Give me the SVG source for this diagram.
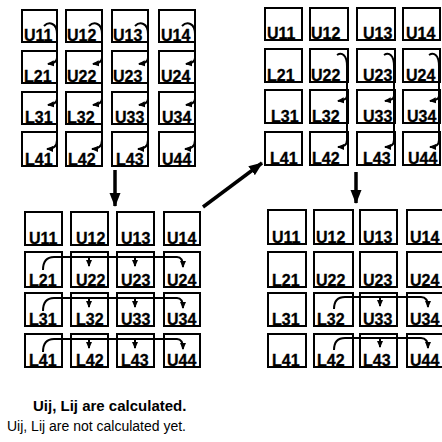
<svg xmlns="http://www.w3.org/2000/svg" width="442" height="442" viewBox="0 0 442 442">
  <style>
    .box { fill: #fff; stroke: #000; stroke-width: 2; }
    .flow { fill: none; stroke: #000; stroke-width: 2; }
    .big { fill: none; stroke: #000; stroke-width: 3.5; }
  </style>
  <defs>
    <marker id="ah" markerUnits="userSpaceOnUse" markerWidth="7" markerHeight="7" refX="6" refY="3.5" orient="auto">
      <path d="M0,0.5 L7,3.5 L0,6.5 z" fill="#000"/>
    </marker>
    <marker id="bigah" markerUnits="userSpaceOnUse" markerWidth="14" markerHeight="12" refX="13" refY="6" orient="auto">
      <path d="M0,0.5 L14,6 L0,11.5 z" fill="#000"/>
    </marker>
  </defs>

  <!-- matrix cells; each label sits on the bottom edge of its cell -->
  <g font-family="Liberation Sans, Arial, sans-serif" font-weight="bold" font-size="16" fill="#000" stroke="#000" stroke-width="0.3">

  <!-- Panel A: first column step -->
  <g id="panelA">
    <g id="a11"><rect class="box" x="22" y="10" width="35" height="32"/><text x="24" y="41">U11</text></g>
    <g id="a12"><rect class="box" x="66" y="10" width="36" height="32"/><text x="67" y="41">U12</text></g>
    <g id="a13"><rect class="box" x="112" y="10" width="36" height="32"/><text x="113" y="41">U13</text></g>
    <g id="a14"><rect class="box" x="159" y="10" width="36" height="32"/><text x="161" y="41">U14</text></g>
    <g id="a21"><rect class="box" x="22" y="51" width="35" height="32"/><text x="24" y="82">L21</text></g>
    <g id="a22"><rect class="box" x="66" y="51" width="36" height="32"/><text x="67" y="82">U22</text></g>
    <g id="a23"><rect class="box" x="112" y="51" width="36" height="32"/><text x="113" y="82">U23</text></g>
    <g id="a24"><rect class="box" x="159" y="51" width="36" height="32"/><text x="161" y="82">U24</text></g>
    <g id="a31"><rect class="box" x="22" y="92" width="35" height="32"/><text x="25" y="123">L31</text></g>
    <g id="a32"><rect class="box" x="66" y="92" width="36" height="32"/><text x="67" y="123">L32</text></g>
    <g id="a33"><rect class="box" x="112" y="92" width="36" height="32"/><text x="115" y="123">U33</text></g>
    <g id="a34"><rect class="box" x="159" y="92" width="36" height="32"/><text x="162" y="123">U34</text></g>
    <g id="a41"><rect class="box" x="22" y="132" width="35" height="34"/><text x="25" y="165">L41</text></g>
    <g id="a42"><rect class="box" x="66" y="132" width="36" height="34"/><text x="68" y="165">L42</text></g>
    <g id="a43"><rect class="box" x="112" y="132" width="36" height="34"/><text x="116" y="165">L43</text></g>
    <g id="a44"><rect class="box" x="159" y="132" width="36" height="34"/><text x="162" y="165">U44</text></g>
  </g>

  <!-- Panel B: second column step -->
  <g id="panelB">
    <g id="b11"><rect class="box" x="265" y="8" width="37" height="32"/><text x="267" y="39">U11</text></g>
    <g id="b12"><rect class="box" x="310" y="8" width="38" height="32"/><text x="311" y="39">U12</text></g>
    <g id="b13"><rect class="box" x="357" y="8" width="38" height="32"/><text x="363" y="39">U13</text></g>
    <g id="b14"><rect class="box" x="403" y="8" width="37" height="32"/><text x="406" y="39">U14</text></g>
    <g id="b21"><rect class="box" x="265" y="49" width="37" height="33"/><text x="267" y="81">L21</text></g>
    <g id="b22"><rect class="box" x="310" y="49" width="38" height="33"/><text x="311" y="81">U22</text></g>
    <g id="b23"><rect class="box" x="357" y="49" width="38" height="33"/><text x="363" y="81">U23</text></g>
    <g id="b24"><rect class="box" x="403" y="49" width="37" height="33"/><text x="406" y="81">U24</text></g>
    <g id="b31"><rect class="box" x="265" y="90" width="37" height="33"/><text x="271" y="122">L31</text></g>
    <g id="b32"><rect class="box" x="310" y="90" width="38" height="33"/><text x="312" y="122">L32</text></g>
    <g id="b33"><rect class="box" x="357" y="90" width="38" height="33"/><text x="363" y="122">U33</text></g>
    <g id="b34"><rect class="box" x="403" y="90" width="37" height="33"/><text x="407" y="122">U34</text></g>
    <g id="b41"><rect class="box" x="265" y="132" width="37" height="33"/><text x="270" y="164">L41</text></g>
    <g id="b42"><rect class="box" x="310" y="132" width="38" height="33"/><text x="312" y="164">L42</text></g>
    <g id="b43"><rect class="box" x="357" y="132" width="38" height="33"/><text x="363" y="164">L43</text></g>
    <g id="b44"><rect class="box" x="403" y="132" width="37" height="33"/><text x="408" y="164">U44</text></g>
  </g>

  <!-- Panel C: first row step -->
  <g id="panelC">
    <g id="c11"><rect class="box" x="25" y="212" width="37" height="33"/><text x="29" y="244">U11</text></g>
    <g id="c12"><rect class="box" x="71" y="212" width="37" height="33"/><text x="76" y="244">U12</text></g>
    <g id="c13"><rect class="box" x="117" y="212" width="37" height="33"/><text x="121" y="244">U13</text></g>
    <g id="c14"><rect class="box" x="164" y="212" width="36" height="33"/><text x="167" y="244">U14</text></g>
    <g id="c21"><rect class="box" x="25" y="252" width="37" height="35"/><text x="29" y="286">L21</text></g>
    <g id="c22"><rect class="box" x="71" y="252" width="37" height="35"/><text x="76" y="286">U22</text></g>
    <g id="c23"><rect class="box" x="117" y="252" width="37" height="35"/><text x="121" y="286">U23</text></g>
    <g id="c24"><rect class="box" x="164" y="252" width="36" height="35"/><text x="167" y="286">U24</text></g>
    <g id="c31"><rect class="box" x="25" y="293" width="37" height="33"/><text x="29" y="325">L31</text></g>
    <g id="c32"><rect class="box" x="71" y="293" width="37" height="33"/><text x="76" y="325">L32</text></g>
    <g id="c33"><rect class="box" x="117" y="293" width="37" height="33"/><text x="121" y="325">U33</text></g>
    <g id="c34"><rect class="box" x="164" y="293" width="36" height="33"/><text x="167" y="325">U34</text></g>
    <g id="c41"><rect class="box" x="25" y="334" width="37" height="33"/><text x="29" y="366">L41</text></g>
    <g id="c42"><rect class="box" x="71" y="334" width="37" height="33"/><text x="76" y="366">L42</text></g>
    <g id="c43"><rect class="box" x="117" y="334" width="37" height="33"/><text x="121" y="366">L43</text></g>
    <g id="c44"><rect class="box" x="164" y="334" width="36" height="33"/><text x="167" y="366">U44</text></g>
  </g>

  <!-- Panel D: second row step -->
  <g id="panelD">
    <g id="d11"><rect class="box" x="268" y="210" width="38" height="34"/><text x="272" y="243">U11</text></g>
    <g id="d12"><rect class="box" x="314" y="210" width="39" height="34"/><text x="316" y="243">U12</text></g>
    <g id="d13"><rect class="box" x="360" y="210" width="37" height="34"/><text x="363" y="243">U13</text></g>
    <g id="d14"><rect class="box" x="407" y="210" width="40" height="34"/><text x="410" y="243">U14</text></g>
    <g id="d21"><rect class="box" x="268" y="252" width="38" height="35"/><text x="272" y="286">L21</text></g>
    <g id="d22"><rect class="box" x="314" y="252" width="39" height="35"/><text x="316" y="286">U22</text></g>
    <g id="d23"><rect class="box" x="360" y="252" width="37" height="35"/><text x="363" y="286">U23</text></g>
    <g id="d24"><rect class="box" x="407" y="252" width="40" height="35"/><text x="410" y="286">U24</text></g>
    <g id="d31"><rect class="box" x="268" y="293" width="38" height="33"/><text x="272" y="325">L31</text></g>
    <g id="d32"><rect class="box" x="314" y="293" width="39" height="33"/><text x="317" y="325">L32</text></g>
    <g id="d33"><rect class="box" x="360" y="293" width="37" height="33"/><text x="363" y="325">U33</text></g>
    <g id="d34"><rect class="box" x="407" y="293" width="40" height="33"/><text x="410" y="325">U34</text></g>
    <g id="d41"><rect class="box" x="268" y="334" width="38" height="33"/><text x="272" y="366">L41</text></g>
    <g id="d42"><rect class="box" x="314" y="334" width="39" height="33"/><text x="317" y="366">L42</text></g>
    <g id="d43"><rect class="box" x="360" y="334" width="37" height="33"/><text x="363" y="366">L43</text></g>
    <g id="d44"><rect class="box" x="407" y="334" width="40" height="33"/><text x="410" y="366">U44</text></g>
  </g>
  </g>

  <!-- Connectors -->
  <g id="connectors">
    <!-- panel A: pivot of each column feeds the entries below it -->
    <path class="flow" d="M44,26 C49,21 57,23 57,34 L57,140 Q57,149 47,149" marker-end="url(#ah)"/>
    <path class="flow" d="M57,58 Q57,63 48,64" marker-end="url(#ah)"/>
    <path class="flow" d="M57,99 Q57,104 48,105" marker-end="url(#ah)"/>
    <path class="flow" d="M89,26 C94,21 102,23 102,34 L102,140 Q102,149 92,149" marker-end="url(#ah)"/>
    <path class="flow" d="M102,58 Q102,63 93,64" marker-end="url(#ah)"/>
    <path class="flow" d="M102,99 Q102,104 93,105" marker-end="url(#ah)"/>
    <path class="flow" d="M135,26 C140,21 148,23 148,34 L148,140 Q148,149 138,149" marker-end="url(#ah)"/>
    <path class="flow" d="M148,58 Q148,63 139,64" marker-end="url(#ah)"/>
    <path class="flow" d="M148,99 Q148,104 139,105" marker-end="url(#ah)"/>
    <path class="flow" d="M182,26 C187,21 195,23 195,34 L195,140 Q195,149 185,149" marker-end="url(#ah)"/>
    <path class="flow" d="M195,58 Q195,63 186,64" marker-end="url(#ah)"/>
    <path class="flow" d="M195,99 Q195,104 186,105" marker-end="url(#ah)"/>

    <!-- panel B: columns 2-4 from row 2 down -->
    <path class="flow" d="M337,55 C342,52 347,55 347,66 L347,140 Q347,147 338,147" marker-end="url(#ah)"/>
    <path class="flow" d="M347,96 Q347,100 338,101" marker-end="url(#ah)"/>
    <path class="flow" d="M384,55 C389,52 394,55 394,66 L394,140 Q394,147 385,147" marker-end="url(#ah)"/>
    <path class="flow" d="M394,96 Q394,100 385,101" marker-end="url(#ah)"/>
    <path class="flow" d="M429,55 C434,52 439,55 439,66 L439,140 Q439,147 430,147" marker-end="url(#ah)"/>
    <path class="flow" d="M439,96 Q439,100 430,101" marker-end="url(#ah)"/>

    <!-- panel C: rows 2-4 -->
    <path class="flow" d="M43,270 Q43,257 54,257 L177,257 Q183,257 183,267" marker-end="url(#ah)"/>
    <path class="flow" d="M89,257 L89,266" marker-end="url(#ah)"/>
    <path class="flow" d="M135,257 L135,266" marker-end="url(#ah)"/>
    <path class="flow" d="M43,311 Q43,298 54,298 L177,298 Q183,298 183,308" marker-end="url(#ah)"/>
    <path class="flow" d="M89,298 L89,307" marker-end="url(#ah)"/>
    <path class="flow" d="M135,298 L135,307" marker-end="url(#ah)"/>
    <path class="flow" d="M43,352 Q43,339 54,339 L177,339 Q183,339 183,349" marker-end="url(#ah)"/>
    <path class="flow" d="M89,339 L89,348" marker-end="url(#ah)"/>
    <path class="flow" d="M135,339 L135,348" marker-end="url(#ah)"/>

    <!-- panel D: rows 3-4 from column 2 -->
    <path class="flow" d="M334,309 Q334,297 345,297 L421,297 Q428,297 428,307" marker-end="url(#ah)"/>
    <path class="flow" d="M380,297 L380,306" marker-end="url(#ah)"/>
    <path class="flow" d="M334,350 Q334,338 345,338 L421,338 Q428,338 428,348" marker-end="url(#ah)"/>
    <path class="flow" d="M380,338 L380,347" marker-end="url(#ah)"/>

    <!-- steps between panels -->
    <path class="big" d="M115,170 L115,206" marker-end="url(#bigah)"/>
    <path class="big" d="M203,207 L262,163" marker-end="url(#bigah)"/>
    <path class="big" d="M356,172 L356,203" marker-end="url(#bigah)"/>
  </g>

  <g id="legend" font-family="Liberation Sans, Arial, sans-serif" fill="#000">
    <text x="33" y="411" font-size="15" font-weight="bold">Uij, Lij are calculated.</text>
    <text x="7" y="431" font-size="14">Uij, Lij are not calculated yet.</text>
  </g>
</svg>
